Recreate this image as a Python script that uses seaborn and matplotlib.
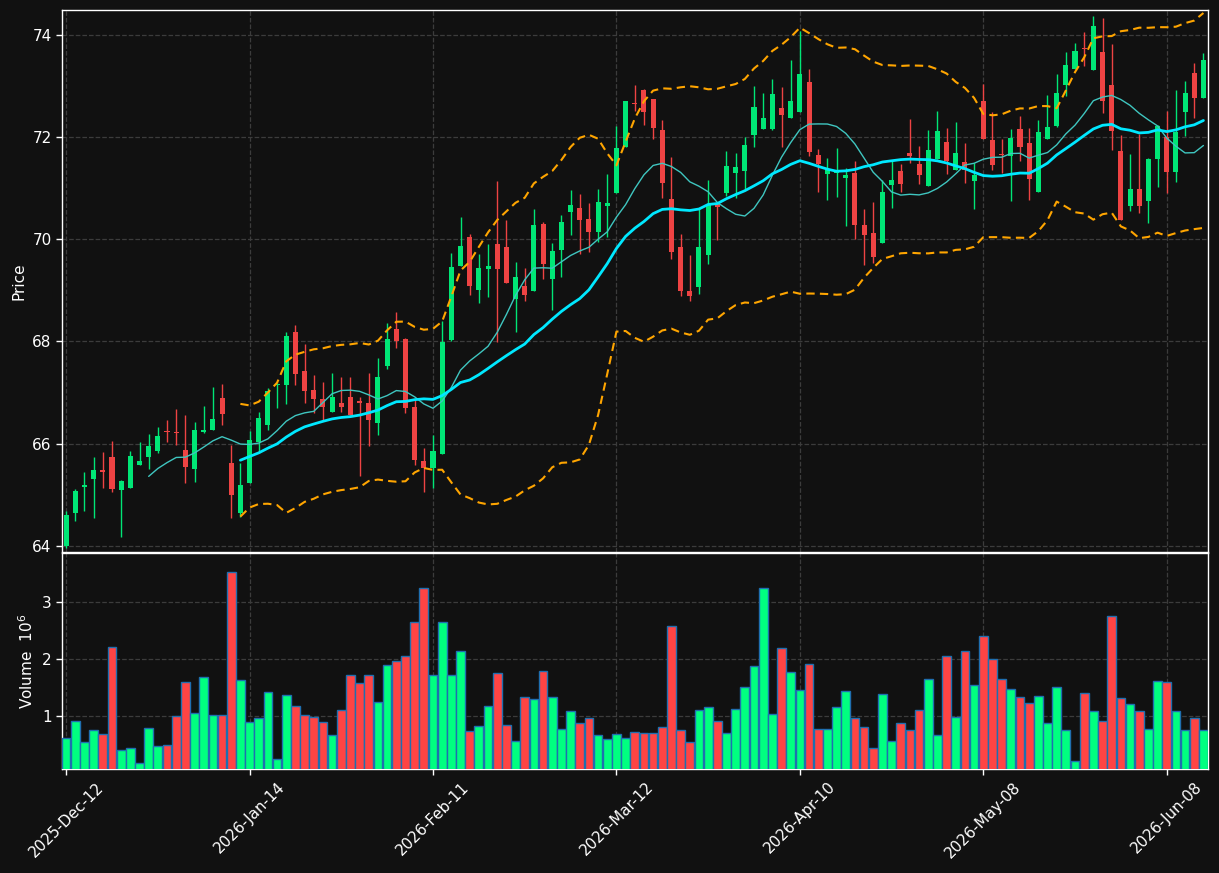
import numpy as np
import pandas as pd
import seaborn as sns
import matplotlib.pyplot as plt

# -------------------------------------------------------------------
# Data, one entry per trading day
# -------------------------------------------------------------------

tick_labels = ["2025-Dec-12", "2026-Jan-14", "2026-Feb-11", "2026-Mar-12",
               "2026-Apr-10", "2026-May-08", "2026-Jun-08"]

opens = [
    63.99, 64.65, 65.16, 65.30, 65.49, 65.74, 65.10, 65.14, 65.59, 65.73,
    65.86, 66.24, 66.21, 65.88, 65.51, 66.22, 66.27, 66.90, 65.62, 64.65,
    65.22, 66.04, 66.37, 67.14, 67.15, 68.19, 67.42, 67.05, 66.88, 66.61,
    66.79, 66.92, 66.84, 66.80, 66.41, 67.52, 68.25, 68.05, 66.71, 65.66,
    65.53, 65.79, 68.03, 69.47, 70.04, 69.01, 69.42, 69.91, 69.84, 68.83,
    69.09, 68.98, 70.30, 69.21, 69.78, 70.52, 70.61, 70.40, 70.13, 70.64,
    70.90, 71.80, 72.66, 72.92, 72.73, 72.14, 70.79, 69.85, 68.99, 69.07,
    69.69, 70.69, 70.90, 71.29, 71.33, 72.03, 72.15, 72.16, 72.57, 72.36,
    72.48, 73.08, 71.65, 71.28, 71.29, 71.19, 71.29, 70.28, 70.11, 69.92,
    71.06, 71.34, 71.69, 71.46, 71.03, 71.57, 71.89, 71.35, 71.51, 71.13,
    72.71, 71.93, 71.67, 71.62, 72.16, 71.87, 70.93, 71.95, 72.22, 73.02,
    73.33, 73.74, 73.30, 73.65, 73.02, 71.72, 70.64, 70.97, 70.75, 71.57,
    71.99, 71.32, 72.48, 73.25, 72.75,
]
highs = [
    64.68, 65.12, 65.44, 65.74, 65.84, 66.05, 65.29, 65.86, 66.03, 66.19,
    66.32, 66.47, 66.67, 66.56, 66.42, 66.74, 67.11, 67.16, 65.98, 65.63,
    66.24, 66.62, 67.09, 67.18, 68.18, 68.31, 67.95, 67.35, 67.20, 67.38,
    67.30, 67.31, 66.92, 67.38, 67.67, 68.36, 68.57, 68.06, 66.86, 65.91,
    66.17, 68.39, 69.73, 70.43, 70.10, 69.71, 69.90, 71.13, 70.38, 69.55,
    69.43, 70.58, 70.33, 69.92, 70.48, 70.95, 70.89, 70.71, 70.97, 71.27,
    72.21, 72.71, 73.02, 72.94, 72.74, 72.32, 71.60, 70.10, 69.69, 70.61,
    71.15, 70.71, 71.73, 71.68, 72.00, 73.00, 72.85, 73.13, 72.98, 73.51,
    74.07, 73.33, 71.76, 71.59, 71.78, 71.39, 71.53, 70.59, 70.73, 71.15,
    71.53, 71.47, 72.34, 71.83, 72.13, 72.51, 72.17, 72.29, 71.88, 71.49,
    73.04, 72.48, 71.95, 72.15, 72.41, 72.17, 72.32, 72.81, 73.22, 73.66,
    73.84, 74.05, 74.37, 74.33, 73.82, 72.04, 71.66, 72.06, 71.59, 72.24,
    72.50, 72.92, 73.10, 73.45, 73.64,
]
lows = [
    63.95, 64.48, 64.69, 64.54, 65.13, 65.06, 64.17, 65.14, 65.59, 65.50,
    65.81, 66.04, 65.98, 65.23, 65.25, 66.20, 66.26, 66.36, 64.54, 64.57,
    65.22, 65.81, 66.27, 66.69, 66.78, 67.14, 66.79, 66.60, 66.47, 66.61,
    66.62, 66.56, 65.36, 65.96, 66.16, 67.46, 67.87, 66.60, 65.59, 65.05,
    65.13, 65.79, 68.00, 69.47, 68.90, 68.75, 68.87, 67.98, 69.15, 68.19,
    68.78, 68.98, 69.22, 68.62, 69.26, 70.07, 69.71, 69.75, 69.94, 70.05,
    70.90, 71.80, 72.50, 72.24, 71.96, 70.80, 69.62, 68.88, 68.78, 68.93,
    69.51, 69.99, 70.84, 70.80, 70.98, 71.81, 72.15, 72.13, 71.80, 72.36,
    72.48, 71.63, 70.93, 70.77, 70.82, 70.25, 70.00, 69.49, 69.53, 69.92,
    70.60, 70.93, 71.49, 71.08, 71.03, 71.57, 71.27, 71.35, 71.10, 70.59,
    71.96, 71.36, 71.29, 70.74, 71.53, 70.76, 70.93, 71.95, 72.19, 72.79,
    73.33, 73.39, 73.30, 72.47, 71.75, 70.38, 70.54, 70.51, 70.31, 71.02,
    70.90, 71.11, 72.02, 72.37, 72.75,
]
closes = [
    64.61, 65.08, 65.19, 65.49, 65.45, 65.12, 65.27, 65.76, 65.66, 65.96,
    66.15, 66.23, 66.20, 65.55, 66.27, 66.27, 66.49, 66.57, 64.99, 65.19,
    66.07, 66.50, 67.03, 67.16, 68.11, 67.37, 67.02, 66.87, 66.71, 66.91,
    66.71, 66.56, 66.80, 66.47, 67.30, 68.04, 68.00, 66.69, 65.67, 65.52,
    65.86, 67.98, 69.45, 69.86, 69.09, 69.43, 69.48, 69.42, 69.15, 69.26,
    68.91, 70.27, 69.52, 69.77, 70.34, 70.67, 70.37, 70.13, 70.73, 70.71,
    71.78, 72.71, 72.65, 72.48, 72.17, 71.09, 69.74, 68.98, 68.89, 69.85,
    70.69, 70.62, 71.42, 71.40, 71.83, 72.59, 72.36, 72.83, 72.42, 72.71,
    73.22, 71.70, 71.46, 71.38, 71.35, 71.25, 70.28, 70.07, 69.64, 70.93,
    71.16, 71.08, 71.62, 71.26, 71.75, 72.12, 71.53, 71.69, 71.35, 71.26,
    71.96, 71.44, 71.65, 71.98, 71.80, 71.18, 72.10, 72.20, 72.85, 73.41,
    73.67, 73.71, 74.16, 72.70, 72.11, 70.38, 70.97, 70.64, 71.57, 72.22,
    71.31, 72.10, 72.85, 72.75, 73.51,
]
# volume in millions of shares
volumes = [
    0.61, 0.91, 0.54, 0.75, 0.68, 2.21, 0.40, 0.44, 0.18, 0.79,
    0.47, 0.49, 0.99, 1.60, 1.05, 1.68, 1.02, 1.02, 3.51, 1.63,
    0.89, 0.96, 1.42, 0.25, 1.37, 1.18, 1.02, 0.98, 0.89, 0.67,
    1.11, 1.72, 1.58, 1.72, 1.25, 1.89, 1.96, 2.04, 2.65, 3.23,
    1.72, 2.65, 1.72, 2.14, 0.74, 0.82, 1.18, 1.75, 0.84, 0.56,
    1.33, 1.30, 1.79, 1.33, 0.77, 1.09, 0.88, 0.96, 0.67, 0.60,
    0.68, 0.61, 0.72, 0.70, 0.70, 0.81, 2.58, 0.75, 0.54, 1.11,
    1.16, 0.91, 0.70, 1.12, 1.51, 1.88, 3.23, 1.04, 2.19, 1.77,
    1.46, 1.91, 0.77, 0.77, 1.16, 1.44, 0.96, 0.81, 0.44, 1.39,
    0.56, 0.88, 0.75, 1.11, 1.65, 0.67, 2.04, 0.98, 2.14, 1.54,
    2.40, 2.00, 1.65, 1.47, 1.33, 1.23, 1.35, 0.88, 1.51, 0.75,
    0.21, 1.40, 1.09, 0.91, 2.75, 1.32, 1.21, 1.09, 0.77, 1.61,
    1.60, 1.09, 0.75, 0.96, 0.75,
]

# -------------------------------------------------------------------
# Indicators: 10/20 day moving averages and 20 day Bollinger bands
# -------------------------------------------------------------------

df = pd.DataFrame({"open": opens, "high": highs, "low": lows,
                   "close": closes, "volume": volumes})
df["idx"] = np.arange(len(df))
df["up"] = df["close"] >= df["open"]
df["ma10"] = df["close"].rolling(10).mean()
df["ma20"] = df["close"].rolling(20).mean()
std20 = df["close"].rolling(20).std(ddof=0)
df["bb_up"] = df["ma20"] + 2 * std20
df["bb_lo"] = df["ma20"] - 2 * std20

# -------------------------------------------------------------------
# Style
# -------------------------------------------------------------------

bg = "#111111"
sns.set_style("dark", {"axes.facecolor": bg, "figure.facecolor": bg,
                       "axes.edgecolor": "white", "text.color": "white",
                       "axes.labelcolor": "white", "xtick.color": "white",
                       "ytick.color": "white"})
plt.rcParams["font.family"] = ["DejaVu Sans"]
plt.rcParams["font.size"] = 11

candle_up, candle_dn = "#00e676", "#ee4343"
vol_up, vol_dn = "#00ff80", "#ff4444"

W, H = 1219, 873
fig = plt.figure(figsize=(W / 100, H / 100), dpi=100, facecolor=bg)
left, right = 62 / W, 1208 / W
ax1 = fig.add_axes([left, 1 - 552 / H, right - left, 542 / H])
ax2 = fig.add_axes([left, 1 - 769 / H, right - left, 216 / H], sharex=ax1)

# -------------------------------------------------------------------
# Candles
# -------------------------------------------------------------------

c_cols = np.where(df["up"], candle_up, candle_dn)
ax1.vlines(df["idx"], df["low"], df["high"], colors=c_cols, lw=1, zorder=3)
body_lo = np.minimum(df["open"], df["close"])
body_h = np.maximum((df["close"] - df["open"]).abs(), 0.02)
ax1.bar(df["idx"], body_h, bottom=body_lo, width=0.55, color=c_cols,
        linewidth=0, zorder=4)

# Moving averages and bands
sns.lineplot(data=df, x="idx", y="ma10", ax=ax1, color="#3fc6c0", lw=1,
             zorder=5)
sns.lineplot(data=df, x="idx", y="ma20", ax=ax1, color="#00e8ff", lw=2,
             zorder=5)
for col in ["bb_up", "bb_lo"]:
    sns.lineplot(data=df, x="idx", y=col, ax=ax1, color="#ffa500", lw=1.5,
                 linestyle=(0, (4, 2.5)), zorder=5)

ax1.set_ylim(63.88, 74.48)
ax1.set_yticks([64, 66, 68, 70, 72, 74])
ax1.set_ylabel("Price")
ax1.set_xlabel("")
ax1.tick_params(axis="x", length=0, labelbottom=False)

# -------------------------------------------------------------------
# Volume
# -------------------------------------------------------------------

v_cols = np.where(df["up"], vol_up, vol_dn)
ax2.bar(df["idx"], df["volume"], width=0.95, color=v_cols,
        edgecolor="#1f6fb0", linewidth=1, zorder=3)
ax2.set_ylim(0.07, 3.85)
ax2.set_yticks([1, 2, 3])
ax2.set_ylabel("Volume  $10^6$")

ax2.set_xlim(-0.45, 124.5)
ax2.set_xticks(range(0, 121, 20))
ax2.set_xticklabels(tick_labels, rotation=45, ha="center")

for ax in (ax1, ax2):
    ax.grid(True, color="#3c3c3c", linestyle="--", lw=0.9)
    ax.set_axisbelow(True)
    ax.tick_params(colors="white", length=4, width=1, direction="out",
                   left=True, bottom=True)
    for sp in ax.spines.values():
        sp.set_color("white")
        sp.set_linewidth(1)
ax1.tick_params(axis="x", length=0)

plt.savefig("out.png", dpi=100, facecolor=bg)
